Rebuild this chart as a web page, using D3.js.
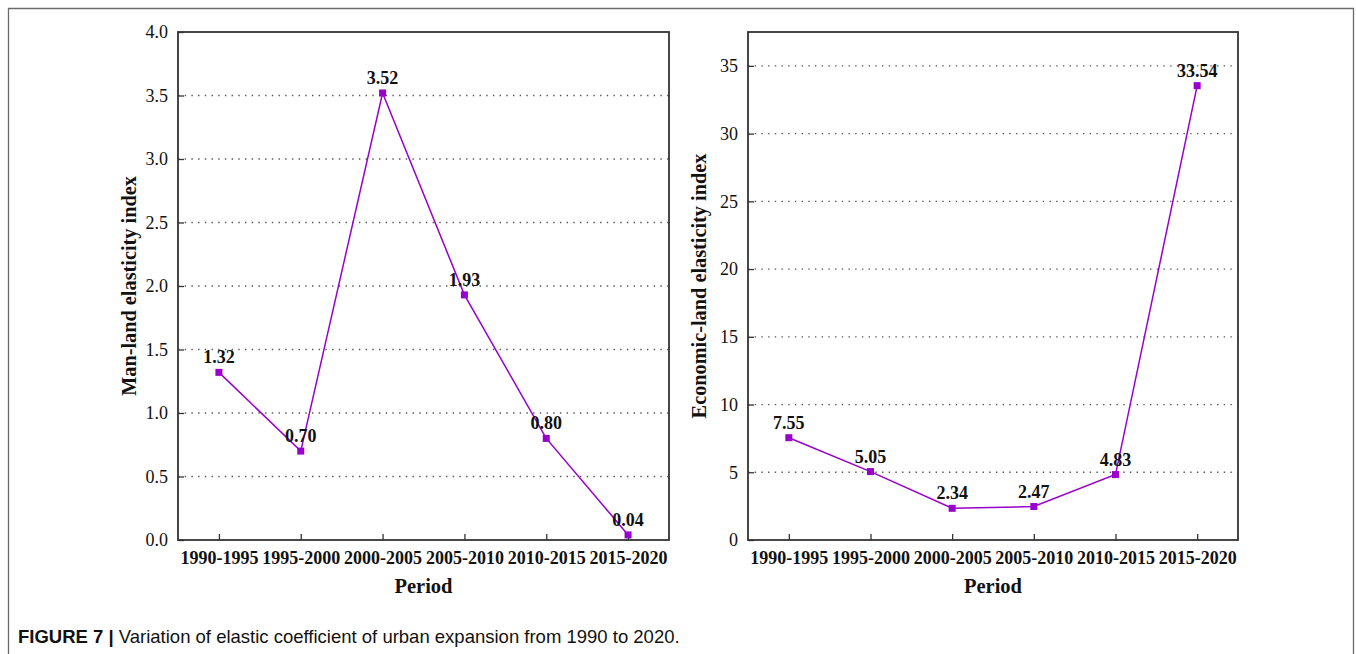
<!DOCTYPE html>
<html>
<head>
<meta charset="utf-8">
<script src="https://cdn.jsdelivr.net/npm/d3@7"></script>
<style>
  html, body { margin: 0; padding: 0; background: #fff; }
  svg { display: block; }
</style>
</head>
<body>
<svg id="fig" width="1356" height="654"></svg>
<script>
// Periods shared by both panels
const periods = ["1990-1995", "1995-2000", "2000-2005", "2005-2010", "2010-2015", "2015-2020"];

// Man-land elasticity index per period
const manLand = [1.32, 0.70, 3.52, 1.93, 0.80, 0.04];
// Economic-land elasticity index per period
const economicLand = [7.55, 5.05, 2.34, 2.47, 4.83, 33.54];

// Y tick values for each panel
const manLandTicks = [0.0, 0.5, 1.0, 1.5, 2.0, 2.5, 3.0, 3.5, 4.0];
const economicTicks = [0, 5, 10, 15, 20, 25, 30, 35];

const caption = "Variation of elastic coefficient of urban expansion from 1990 to 2020.";

const svg = d3.select("#fig");
const serif = "'Liberation Serif', 'Times New Roman', serif";
const sans = "'Liberation Sans', Arial, sans-serif";
const purple = "#9a00cc";

// Outer figure frame (open at the bottom)
svg.append("path")
  .attr("d", "M8.5,654 L8.5,8.5 L1353.5,8.5 L1353.5,654")
  .attr("fill", "none")
  .attr("stroke", "#6b6b6b")
  .attr("stroke-width", 1.3);

function panel(opts) {
  const { left, right, top, bottom, values, domain, ticks, fmt, title } = opts;
  const g = svg.append("g");

  const x = d3.scalePoint().domain(periods).range([left, right]).padding(0.5);
  const y = d3.scaleLinear().domain(domain).range([bottom, top]);

  // Dotted horizontal grid lines
  g.append("g").selectAll("line")
    .data(ticks.filter(t => t > domain[0] && t < domain[1]))
    .join("line")
    .attr("x1", left).attr("x2", right)
    .attr("y1", d => y(d)).attr("y2", d => y(d))
    .attr("stroke", "#555")
    .attr("stroke-width", 1.3)
    .attr("stroke-dasharray", "1.4,5.3");

  // Left axis with inward ticks
  const yAxis = g.append("g")
    .attr("transform", `translate(${left},0)`)
    .call(d3.axisLeft(y).tickValues(ticks).tickFormat(fmt).tickSizeInner(-6).tickSizeOuter(0).tickPadding(10));
  yAxis.select(".domain").remove();
  yAxis.selectAll(".tick line").attr("stroke", "#333").attr("stroke-width", 1.3);
  yAxis.selectAll(".tick text")
    .attr("font-family", serif).attr("font-size", 18).attr("fill", "#111");

  // Bottom axis with inward ticks
  const xAxis = g.append("g")
    .attr("transform", `translate(0,${bottom})`)
    .call(d3.axisBottom(x).tickSizeInner(-6).tickSizeOuter(0).tickPadding(11));
  xAxis.select(".domain").remove();
  xAxis.selectAll(".tick line").attr("stroke", "#333").attr("stroke-width", 1.3);
  xAxis.selectAll(".tick text")
    .attr("font-family", serif).attr("font-size", 18).attr("font-weight", "bold").attr("fill", "#111");

  // Plot frame
  g.append("rect")
    .attr("x", left).attr("y", top)
    .attr("width", right - left).attr("height", bottom - top)
    .attr("fill", "none")
    .attr("stroke", "#333")
    .attr("stroke-width", 1.8);

  // Series line
  const pts = periods.map((p, i) => ({ p, v: values[i] }));
  g.append("path")
    .datum(pts)
    .attr("d", d3.line().x(d => x(d.p)).y(d => y(d.v)))
    .attr("fill", "none")
    .attr("stroke", purple)
    .attr("stroke-width", 1.5);

  // Square markers
  g.append("g").selectAll("rect")
    .data(pts)
    .join("rect")
    .attr("x", d => x(d.p) - 3.5).attr("y", d => y(d.v) - 3.5)
    .attr("width", 7).attr("height", 7)
    .attr("fill", purple);

  // Value labels
  g.append("g").selectAll("text")
    .data(pts)
    .join("text")
    .attr("x", d => x(d.p))
    .attr("y", d => y(d.v) - 9)
    .attr("text-anchor", "middle")
    .attr("font-family", serif)
    .attr("font-size", 18)
    .attr("font-weight", "bold")
    .attr("fill", "#111")
    .text(d => d.v.toFixed(2));

  // X axis title
  g.append("text")
    .attr("x", (left + right) / 2).attr("y", 593)
    .attr("text-anchor", "middle")
    .attr("font-family", serif).attr("font-size", 20.5).attr("font-weight", "bold").attr("fill", "#111")
    .text("Period");

  // Y axis title
  g.append("text")
    .attr("transform", `translate(${left - 42},${(top + bottom) / 2}) rotate(-90)`)
    .attr("text-anchor", "middle")
    .attr("font-family", serif).attr("font-size", 20.3).attr("font-weight", "bold").attr("fill", "#111")
    .text(title);
}

panel({
  left: 178, right: 669, top: 32, bottom: 540,
  values: manLand, domain: [0, 4], ticks: manLandTicks,
  fmt: d3.format(".1f"), title: "Man-land elasticity index"
});

panel({
  left: 748, right: 1238, top: 32, bottom: 540,
  values: economicLand, domain: [0, 37.5], ticks: economicTicks,
  fmt: d3.format("d"), title: "Economic-land elasticity index"
});

// Figure caption
const cap = svg.append("text")
  .attr("x", 18).attr("y", 643)
  .attr("font-family", sans).attr("font-size", 18.5).attr("fill", "#111");
cap.append("tspan").attr("font-weight", "bold").text("FIGURE 7 | ");
cap.append("tspan").text(caption);
</script>
</body>
</html>
